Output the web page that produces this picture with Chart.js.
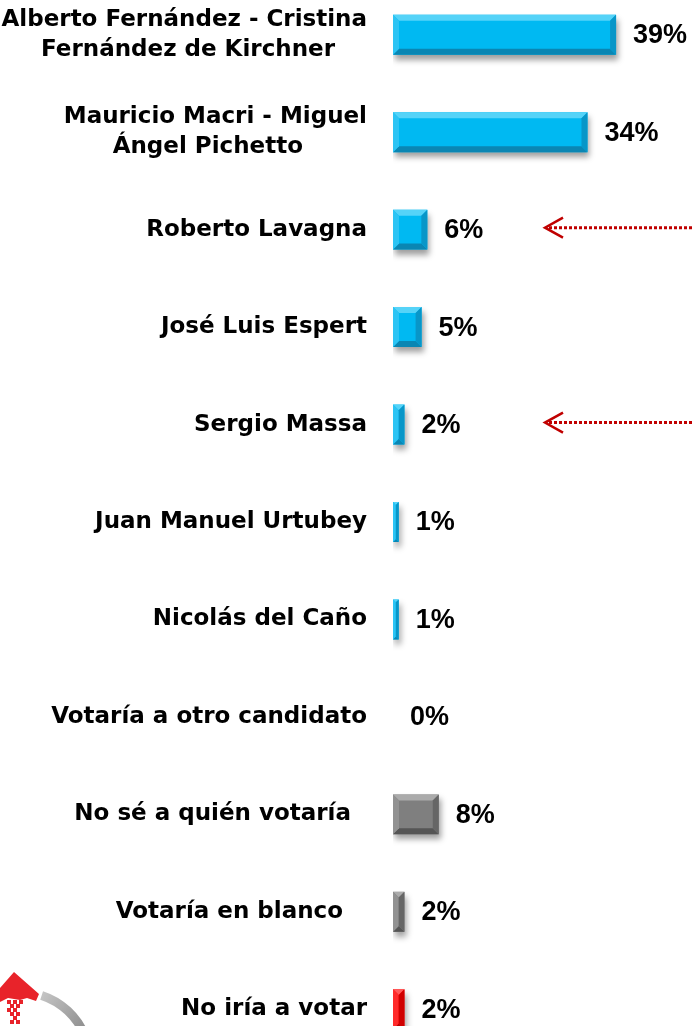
<!DOCTYPE html>
<html><head><meta charset="utf-8">
<script src="https://cdn.jsdelivr.net/npm/chart.js@4.4.1/dist/chart.umd.min.js"></script>
<style>
html,body{margin:0;padding:0;background:#fff;overflow:hidden}
#wrap{position:relative;width:694px;height:1026px;overflow:hidden;background:#fff}
#c{position:absolute;left:0;top:-14px}
</style></head><body>
<div id="wrap"><canvas id="c" width="694" height="1072"></canvas></div>
<script>
// ---- data ----
const categories = [
  ["Alberto Fernández - Cristina", "Fernández de Kirchner"],
  ["Mauricio Macri - Miguel", "Ángel Pichetto"],
  "Roberto Lavagna",
  "José Luis Espert",
  "Sergio Massa",
  "Juan Manuel Urtubey",
  "Nicolás del Caño",
  "Votaría a otro candidato",
  "No sé a quién votaría",
  "Votaría en blanco",
  "No iría a votar"
];
const values = [39, 34, 6, 5, 2, 1, 1, 0, 8, 2, 2];
const barGroups = ["cand","cand","cand","cand","cand","cand","cand","cand","nosabe","nosabe","novota"];
const arrowRows = ["Roberto Lavagna", "Sergio Massa"];

// ---- styles ----
const palettes = {
  cand:   {face:"#00B9F2", top:"#55D3F8", bottom:"#0A86B3", left:"#2CC4F4", right:"#0896C8"},
  nosabe: {face:"#7F7F7F", top:"#ABABAB", bottom:"#555555", left:"#929292", right:"#666666"},
  novota: {face:"#FF0000", top:"#FF5A5A", bottom:"#B80000", left:"#FF2A2A", right:"#D00000"}
};
// text-box alignment quirks of the original slide (trailing space count per line)
const labelIndent = [[0, 4], [0, 8], 0, 0, 0, 0, 0, 0, 2, 3, 0];
const OFFSET_Y = 14; // canvas shifted up by this much

function poly(ctx, pts, color){
  ctx.beginPath();
  ctx.moveTo(pts[0][0], pts[0][1]);
  for (let i=1;i<pts.length;i++) ctx.lineTo(pts[i][0], pts[i][1]);
  ctx.closePath();
  ctx.fillStyle = color;
  ctx.fill();
}

const bevelPlugin = {
  id: 'bevel',
  beforeDatasetsDraw(chart){
    const ctx = chart.ctx;
    ctx.save();
    ctx.shadowColor = 'rgba(0,0,0,0.38)';
    ctx.shadowBlur = 6;
    ctx.shadowOffsetX = 2;
    ctx.shadowOffsetY = 5;
  },
  afterDatasetsDraw(chart){
    const ctx = chart.ctx;
    ctx.restore();
    const meta = chart.getDatasetMeta(0);
    meta.data.forEach((bar, i) => {
      const p = bar.getProps(['x','y','base','height'], true);
      const l = Math.min(p.base, p.x), r = Math.max(p.base, p.x);
      const t = p.y - p.height/2, b = p.y + p.height/2;
      const w = r - l;
      if (w > 0.5) {
        const s = Math.min(6, w/2, p.height/2);
        const pal = palettes[barGroups[i]];
        poly(ctx, [[l,t],[r,t],[r-s,t+s],[l+s,t+s]], pal.top);
        poly(ctx, [[l,b],[r,b],[r-s,b-s],[l+s,b-s]], pal.bottom);
        poly(ctx, [[l,t],[l+s,t+s],[l+s,b-s],[l,b]], pal.left);
        poly(ctx, [[r,t],[r-s,t+s],[r-s,b-s],[r,b]], pal.right);
      }
      // value label
      ctx.save();
      ctx.font = 'bold 27px "Liberation Sans", Arial, sans-serif';
      ctx.fillStyle = '#000';
      ctx.textAlign = 'left';
      ctx.textBaseline = 'middle';
      ctx.fillText(values[i] + '%', r + 17, p.y + 1);
      ctx.restore();
    });
  },
  afterDraw(chart){
    const ctx = chart.ctx;
    const yScale = chart.scales.y;
    // red dotted arrows
    ctx.save();
    ctx.strokeStyle = '#C00000';
    arrowRows.forEach(name => {
      const idx = categories.findIndex(c => c === name);
      const y = yScale.getPixelForValue(idx) - 2;
      ctx.lineWidth = 3;
      ctx.setLineDash([3, 2]);
      ctx.beginPath();
      ctx.moveTo(549, y);
      ctx.lineTo(694, y);
      ctx.stroke();
      ctx.setLineDash([]);
      ctx.lineWidth = 2.5;
      ctx.beginPath();
      ctx.moveTo(563, y - 10);
      ctx.lineTo(545, y);
      ctx.lineTo(563, y + 10);
      ctx.stroke();
    });
    ctx.restore();
    // logo fragment (bottom-left)
    ctx.save();
    ctx.translate(0, OFFSET_Y);
    const g = ctx.createLinearGradient(40, 990, 90, 1030);
    g.addColorStop(0, '#c8c8c8');
    g.addColorStop(1, '#8a8a8a');
    ctx.strokeStyle = g;
    ctx.lineWidth = 9;
    ctx.beginPath();
    ctx.arc(20, 1062, 70, -72*Math.PI/180, -22*Math.PI/180);
    ctx.stroke();
    poly(ctx, [[0,988],[14,972],[39,994],[36,1001],[27,998],[20,1000],[8,998],[0,1002]], '#E8232A');
    ctx.fillStyle = '#E8232A';
    const sq = [[7,1000],[13,1000],[19,1000],[10,1004],[16,1004],[7,1008],[13,1008],[10,1012],[16,1012],[13,1016],[10,1020],[16,1020]];
    sq.forEach(q => ctx.fillRect(q[0], q[1], 4, 4));
    ctx.restore();
  }
};

new Chart(document.getElementById('c'), {
  type: 'bar',
  data: {
    labels: categories,
    datasets: [{
      data: values,
      backgroundColor: barGroups.map(g => palettes[g].face),
      borderWidth: 0,
      barPercentage: 0.41,
      categoryPercentage: 1.0
    }]
  },
  options: {
    indexAxis: 'y',
    responsive: false,
    devicePixelRatio: 1,
    animation: false,
    layout: {padding: {left: 0, right: 15, top: 0, bottom: 0}},
    plugins: {legend: {display: false}, tooltip: {enabled: false}, title: {display: false}},
    scales: {
      x: {display: false, min: 0, max: 50},
      y: {
        afterFit(scale){ scale.width = 393; scale.paddingTop = 0; scale.paddingBottom = 0; },
        border: {display: false},
        grid: {display: false, drawTicks: false},
        ticks: {
          color: '#000',
          padding: 26,
          font: {family: '"DejaVu Sans", sans-serif', weight: 'bold', size: 23, lineHeight: 1.3},
          callback: function(value, index){
            const c = categories[index];
            const s = labelIndent[index];
            if (Array.isArray(c)) return c.map((line, k) => line + ' '.repeat(s[k]));
            return c + ' '.repeat(s);
          }
        }
      }
    }
  },
  plugins: [bevelPlugin]
});
</script>
</body></html>
